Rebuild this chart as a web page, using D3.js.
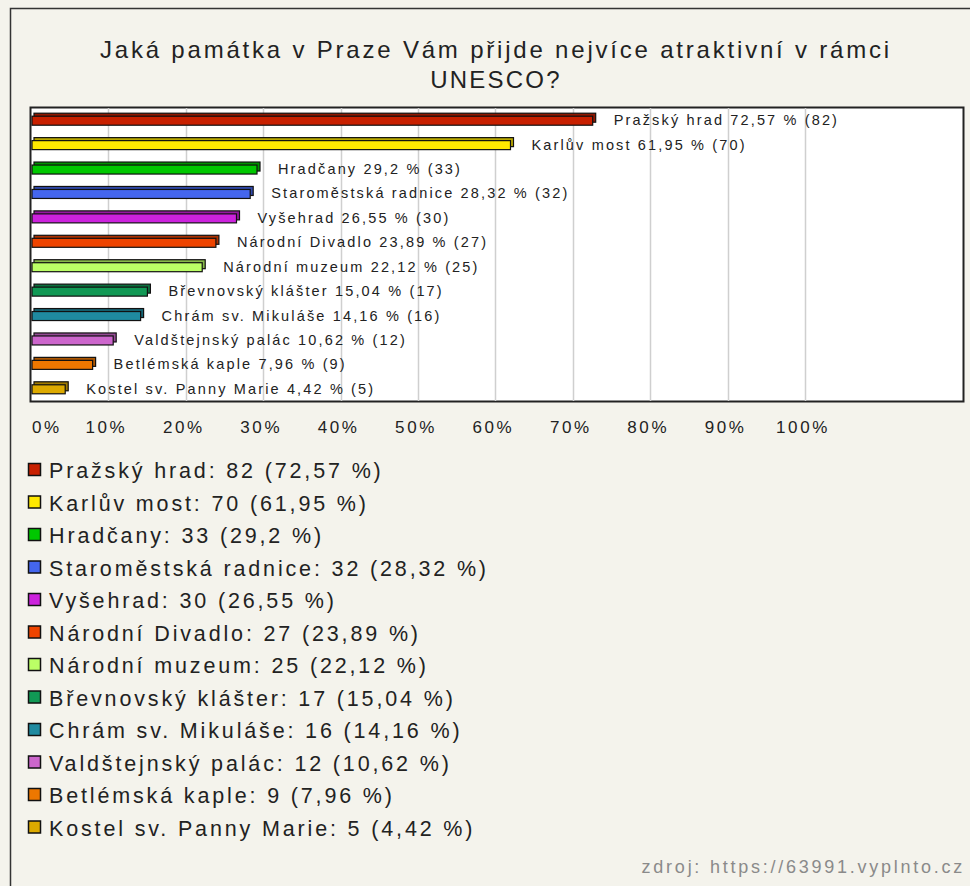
<!DOCTYPE html>
<html><head><meta charset="utf-8">
<script src="https://cdn.jsdelivr.net/npm/d3@7"></script>
<style>body{margin:0;background:#f4f3ec}svg{display:block}</style>
</head><body>
<svg id="c" width="970" height="886"></svg>
<script>
const categories = ["Pražský hrad","Karlův most","Hradčany","Staroměstská radnice","Vyšehrad","Národní Divadlo","Národní muzeum","Břevnovský klášter","Chrám sv. Mikuláše","Valdštejnský palác","Betlémská kaple","Kostel sv. Panny Marie"];
const counts = [82,70,33,32,30,27,25,17,16,12,9,5];
const percents = ["72,57","61,95","29,2","28,32","26,55","23,89","22,12","15,04","14,16","10,62","7,96","4,42"];
const percentValues = [72.57,61.95,29.2,28.32,26.55,23.89,22.12,15.04,14.16,10.62,7.96,4.42];
const colors = ["#c82000","#ffe800","#00c800","#4466ee","#cc22dd","#ee4400","#bbff66","#119955","#1f8aa0","#cc66cc","#ee7700","#ddaa00"];
const tickValues = [0,10,20,30,40,50,60,70,80,90,100];
const tickLabels = ["0%","10%","20%","30%","40%","50%","60%","70%","80%","90%","100%"];
const title = ["Jaká památka v Praze Vám přijde nejvíce atraktivní v rámci","UNESCO?"];
const source = "zdroj: https://63991.vyplnto.cz";

const svg = d3.select("#c");
const font = "'Liberation Sans', Arial, sans-serif";
svg.append("rect").attr("width",970).attr("height",886).attr("fill","#f4f3ec");
svg.append("rect").attr("x",10.5).attr("y",8.5).attr("width",1000).attr("height",1000)
  .attr("fill","none").attr("stroke","#333").attr("stroke-width",1.5);

svg.append("g").selectAll("text").data(title).join("text")
  .attr("x",496).attr("y",(d,i)=>58+i*30).attr("text-anchor","middle")
  .attr("font-family",font).attr("font-size",24).attr("letter-spacing",(d,i)=>i===0?2.8:2.2).attr("fill","#222").text(d=>d);

const plot = {l:31,t:108,r:963,b:401};
const x = d3.scaleLinear().domain([0,100]).range([31,805]);
const y = d3.scaleBand().domain(categories).range([plot.t,plot.b]);

svg.append("rect").attr("x",plot.l-0.5).attr("y",plot.t-0.5).attr("width",plot.r-plot.l+1).attr("height",plot.b-plot.t+1)
  .attr("fill","#fff").attr("stroke","#222").attr("stroke-width",2);

svg.append("g").selectAll("line").data(tickValues.filter(v=>v>0)).join("line")
  .attr("x1",d=>Math.round(x(d))+0.5).attr("x2",d=>Math.round(x(d))+0.5)
  .attr("y1",plot.t).attr("y2",plot.b).attr("stroke","#cfcfcf").attr("stroke-width",1.5);

const rows = categories.map((c,i)=>({c,v:percentValues[i],n:counts[i],p:percents[i],col:colors[i]}));
const bars = svg.append("g").selectAll("g").data(rows).join("g");
const cy = d=>y(d.c)+y.bandwidth()/2;
bars.append("rect")
  .attr("x",x(0)+3).attr("y",d=>cy(d)-7).attr("width",d=>x(d.v)-x(0)).attr("height",9)
  .attr("fill",d=>d3.color(d.col).darker(0.9)).attr("stroke","#111").attr("stroke-width",1.2);
bars.append("rect")
  .attr("x",x(0)+1).attr("y",d=>cy(d)-4).attr("width",d=>x(d.v)-x(0)-1).attr("height",9)
  .attr("fill",d=>d.col).attr("stroke","#111").attr("stroke-width",1.2);
bars.append("text")
  .attr("x",d=>x(d.v)+21).attr("y",d=>cy(d)+5)
  .attr("font-family",font).attr("font-size",14.5).attr("letter-spacing",2.15).attr("fill","#222")
  .text(d=>`${d.c} ${d.p} % (${d.n})`);

svg.append("g").selectAll("text").data(tickValues).join("text")
  .attr("x",(d,i)=>i===0?32:x(d)-2).attr("y",433)
  .attr("text-anchor",(d,i)=>i===0?"start":"middle")
  .attr("font-family",font).attr("font-size",17).attr("letter-spacing",2.6).attr("fill","#222")
  .text((d,i)=>tickLabels[i]);

const leg = svg.append("g").selectAll("g").data(rows).join("g")
  .attr("transform",(d,i)=>`translate(0,${470+i*32.5})`);
leg.append("rect").attr("x",28.5).attr("y",-6.5).attr("width",12).attr("height",12)
  .attr("fill",d=>d.col).attr("stroke","#111").attr("stroke-width",1.5);
leg.append("text").attr("x",49).attr("y",8).attr("font-family",font).attr("font-size",21.5)
  .attr("letter-spacing",2.85).attr("fill","#222")
  .text(d=>`${d.c}: ${d.n} (${d.p} %)`);

svg.append("text").attr("x",965).attr("y",873).attr("text-anchor","end")
  .attr("font-family",font).attr("font-size",18).attr("letter-spacing",2.75).attr("fill","#8a8a8a").text(source);
</script>
</body></html>
